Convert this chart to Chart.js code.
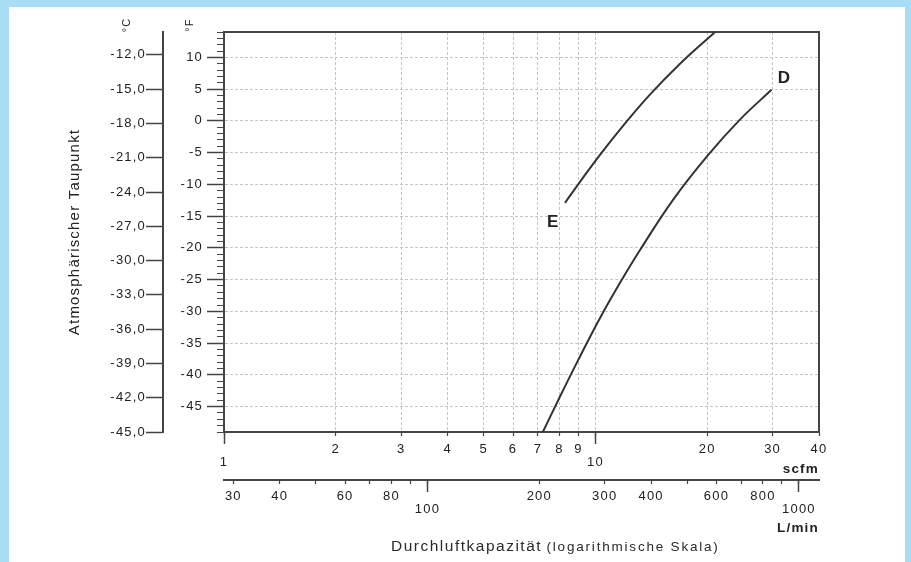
<!DOCTYPE html>
<html>
<head>
<meta charset="utf-8">
<script src="https://cdn.jsdelivr.net/npm/chart.js@4.4.0/dist/chart.umd.min.js"></script>
<style>
  html, body { margin: 0; padding: 0; }
  body { width: 911px; height: 562px; background: #a9ddf6; position: relative; overflow: hidden; font-family: "Liberation Sans", Arial, sans-serif; }
  #panel { position: absolute; left: 9px; top: 7px; width: 896px; height: 560px; background: #fff; }
  #chart { position: absolute; left: 0; top: 0; }
  #caption { position: absolute; left: 391px; top: 537px; line-height: 18px; white-space: nowrap; color: #2a2a2a; }
  #caption .big { font-size: 15.5px; letter-spacing: 1.5px; }
  #caption .small { font-size: 13.5px; letter-spacing: 1.8px; }
</style>
</head>
<body>
<div id="panel"></div>
<canvas id="chart" width="911" height="562"></canvas>
<div id="caption"><span class="big">Durchluftkapazität</span> <span class="small">(logarithmische Skala)</span></div>
<script>
// x axis: scfm, log scale
const scfmMin = 1, scfmMax = 40;
const scfmTicks = [1, 2, 3, 4, 5, 6, 7, 8, 9, 10, 20, 30, 40];
const scfmLabels = [['', '1'], '2', '3', '4', '5', '6', '7', '8', '9', ['', '10'], '20', '30', '40'];
const scfmMajor = [1, 10];

// second x axis: L/min (same flow, other unit)
const LPM_PER_SCFM = 28.3168;
const lminTicks = [30, 40, 50, 60, 70, 80, 90, 100, 200, 300, 400, 500, 600, 700, 800, 900, 1000];
const lminLabels = ['30', '40', '', '60', '', '80', '', ['', '100'], '200', '300', '400', '', '600', '', '800', '', ['', '1000']];
const lminMajor = [100, 1000];

// dew point axes
const fMin = -49, fMax = 14;
const fahrenheitTicks = [-45, -40, -35, -30, -25, -20, -15, -10, -5, 0, 5, 10];
const fahrenheitLabels = ['-45', '-40', '-35', '-30', '-25', '-20', '-15', '-10', '-5', '0', '5', '10'];
const cMin = -45, cMax = -10;
const celsiusTicks = [-45, -42, -39, -36, -33, -30, -27, -24, -21, -18, -15, -12];
const celsiusLabels = ['-45,0', '-42,0', '-39,0', '-36,0', '-33,0', '-30,0', '-27,0', '-24,0', '-21,0', '-18,0', '-15,0', '-12,0'];

// curves (x = scfm, y = °F)
const curveEx = [8.28, 9.09, 10.3, 11.9, 14.0, 16.9, 21.0];
const curveEy = [-12.9, -9.6, -5.3, -0.7, 4.1, 9.0, 14];
const curveDx = [7.22, 8.0, 9.0, 10.3, 11.65, 13.2, 16.2, 20.1, 24.5, 29.8];
const curveDy = [-49, -43.6, -37.6, -31.0, -25.5, -20.3, -12.4, -5.4, 0.2, 4.9];

const curveNames = ['E', 'D'];
const nameX = [7.7, 32.3];
const nameY = [-15.9, 6.7];

// minor ticks every 1 °F
const fahrenheitMinor = [];
for (let f = fMin; f <= fMax; f++) fahrenheitMinor.push(f);

const FONT = '"Liberation Sans", Arial, sans-serif';
const TEXT = '#222';
const INK = '#444';
const GRID = '#c4c4c4';
const LINE = '#333';

Chart.defaults.font.family = FONT;
Chart.defaults.color = TEXT;

const tickFont = { family: FONT, size: 13, lineHeight: 1.03 };
const unitFont = { family: FONT, size: 13.5, weight: 'bold' };
const setTicks = values => scale => { scale.ticks = values.map(v => ({ value: v })); };
const setWidth = w => scale => { scale.width = w; };
const setHeight = h => scale => { scale.height = h; };
const clear = 'rgba(0,0,0,0)';

const extraText = {
  id: 'extraText',
  beforeDraw(chart) {
    chart.ctx.letterSpacing = '1.2px';
  },
  afterDatasetsDraw(chart) {
    const { ctx, scales } = chart;
    ctx.save();
    ctx.fillStyle = '#222';
    ctx.textAlign = 'center';
    ctx.textBaseline = 'middle';
    ctx.font = 'bold 17px ' + FONT;
    curveNames.forEach((n, i) => {
      ctx.fillText(n, scales.x.getPixelForValue(nameX[i]), scales.y.getPixelForValue(nameY[i]));
    });
    ctx.font = '11px ' + FONT;
    [[scales.yC, '°C', 36], [scales.y, '°F', 34]].forEach(([s, t, dx]) => {
      ctx.save();
      ctx.translate(s.right - dx, s.top - 7);
      ctx.rotate(-Math.PI / 2);
      ctx.fillText(t, 0, 0);
      ctx.restore();
    });
    ctx.restore();
  }
};

new Chart(document.getElementById('chart'), {
  type: 'line',
  data: {
    datasets: [
      {
        label: 'E',
        data: curveEx.map((x, i) => ({ x, y: curveEy[i] })),
        xAxisID: 'x', yAxisID: 'y',
        borderColor: LINE, borderWidth: 2, pointRadius: 0,
        tension: 0.4, fill: false
      },
      {
        label: 'D',
        data: curveDx.map((x, i) => ({ x, y: curveDy[i] })),
        xAxisID: 'x', yAxisID: 'y',
        borderColor: LINE, borderWidth: 2, pointRadius: 0,
        tension: 0.4, fill: false
      }
    ]
  },
  options: {
    responsive: false,
    animation: false,
    events: [],
    layout: { padding: { left: 60, top: 32, right: 92, bottom: 24 } },
    plugins: { legend: { display: false }, tooltip: { enabled: false } },
    scales: {
      x: {
        type: 'logarithmic', position: 'bottom', weight: 1, min: scfmMin, max: scfmMax,
        afterBuildTicks: setTicks(scfmTicks), afterFit: setHeight(48),
        ticks: { autoSkip: false, minRotation: 0, maxRotation: 0, padding: 6.6, font: tickFont, color: TEXT,
          callback: (v, i) => scfmLabels[i] },
        grid: {
          color: c => (c.tick && (c.tick.value === scfmMin || c.tick.value === scfmMax)) ? clear : GRID,
          tickLength: 4, tickColor: INK, tickWidth: 1.2
        },
        border: { color: INK, width: 2, dash: [3, 2] },
        title: { display: true, text: 'scfm', align: 'end', color: TEXT,
          font: unitFont, padding: { top: 0, bottom: 3 } }
      },
      xMajor: {
        type: 'logarithmic', position: 'bottom', weight: 0, min: scfmMin, max: scfmMax,
        afterBuildTicks: setTicks(scfmMajor), afterFit: setHeight(0),
        ticks: { display: false },
        grid: { drawOnChartArea: false, tickLength: 12, tickColor: INK, tickWidth: 1.5 },
        border: { display: false }
      },
      x2: {
        type: 'logarithmic', position: 'bottom', weight: 3,
        min: scfmMin * LPM_PER_SCFM, max: scfmMax * LPM_PER_SCFM,
        afterBuildTicks: setTicks(lminTicks), afterFit: setHeight(58),
        ticks: { autoSkip: false, minRotation: 0, maxRotation: 0, padding: 5.3, font: tickFont, color: TEXT,
          callback: (v, i) => lminLabels[i] },
        grid: { drawOnChartArea: false, tickLength: 4, tickColor: INK, tickWidth: 1.2 },
        border: { color: INK, width: 2 },
        title: { display: true, text: 'L/min', align: 'end', color: TEXT,
          font: unitFont, padding: { top: 0, bottom: 1.5 } }
      },
      x2Major: {
        type: 'logarithmic', position: 'bottom', weight: 2,
        min: scfmMin * LPM_PER_SCFM, max: scfmMax * LPM_PER_SCFM,
        afterBuildTicks: setTicks(lminMajor), afterFit: setHeight(0),
        ticks: { display: false },
        grid: { drawOnChartArea: false, tickLength: 12, tickColor: INK, tickWidth: 1.5 },
        border: { display: false }
      },
      xTop: {
        type: 'logarithmic', position: 'top', min: scfmMin, max: scfmMax,
        afterFit: setHeight(0),
        ticks: { display: false },
        grid: { drawOnChartArea: false, drawTicks: false },
        border: { color: INK, width: 2 }
      },
      y: {
        type: 'linear', position: 'left', weight: 1, min: fMin, max: fMax,
        afterBuildTicks: setTicks(fahrenheitTicks), afterFit: setWidth(61),
        ticks: { autoSkip: false, padding: 4, font: tickFont, color: TEXT,
          callback: (v, i) => fahrenheitLabels[i] },
        grid: { color: GRID, tickLength: 17, tickColor: INK, tickWidth: 1.5 },
        border: { color: INK, width: 2, dash: [3, 2] }
      },
      yMinor: {
        type: 'linear', position: 'left', weight: 0, min: fMin, max: fMax,
        afterBuildTicks: setTicks(fahrenheitMinor), afterFit: setWidth(0),
        ticks: { display: false },
        grid: { drawOnChartArea: false, tickLength: 7, tickColor: INK, tickWidth: 1 },
        border: { display: false }
      },
      yC: {
        type: 'linear', position: 'left', weight: 2, min: cMin, max: cMax,
        afterBuildTicks: setTicks(celsiusTicks), afterFit: setWidth(103),
        ticks: { autoSkip: false, padding: 0, font: tickFont, color: TEXT,
          callback: (v, i) => celsiusLabels[i] },
        grid: { drawOnChartArea: false, tickLength: 17, tickColor: INK, tickWidth: 1.5 },
        border: { color: INK, width: 2 },
        title: { display: true, text: 'Atmosphärischer Taupunkt', color: TEXT,
          font: { family: FONT, size: 15 }, padding: { top: 6, bottom: 0 } }
      },
      yRight: {
        type: 'linear', position: 'right', min: fMin, max: fMax,
        afterFit: setWidth(0),
        ticks: { display: false },
        grid: { drawOnChartArea: false, drawTicks: false },
        border: { color: INK, width: 2 }
      }
    }
  },
  plugins: [extraText]
});
</script>
</body>
</html>
